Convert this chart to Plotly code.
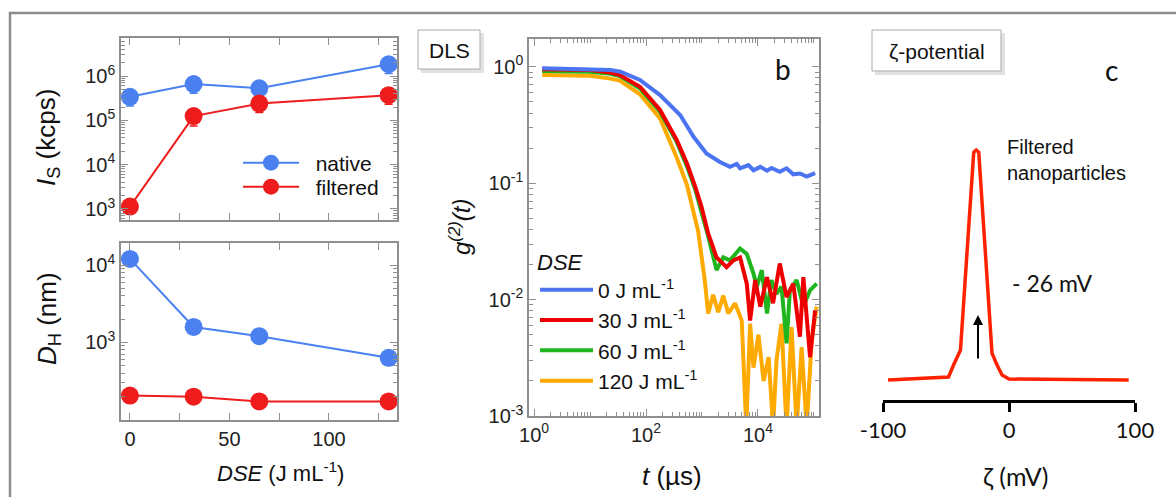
import plotly.graph_objects as go

W, H = 1176, 497
def px(x): return x / W
def py(y): return 1 - y / H

# ---------------- data ----------------
dse = [0, 32, 65, 130]
is_native = [3.4e5, 6.6e5, 5.3e5, 1.85e6]
is_native_err = [1.3e5, 2.5e5, 1.6e5, 7.0e5]
is_filtered = [1.13e3, 1.25e5, 2.4e5, 3.7e5]
is_filtered_err = [0, 5.0e4, 9.0e4, 1.4e5]
dh_native = [1.2e4, 1.58e3, 1.2e3, 630]
dh_filtered = [205, 198, 172, 172]

t_0 = [1.4, 3.2, 10, 23, 35, 78, 178, 407, 708, 1200, 2090, 3160, 4170, 4790, 6760, 8320,
       11000, 14500, 17400, 24500, 32400, 42700, 56200, 74100, 105000]
g_0 = [0.97, 0.965, 0.955, 0.935, 0.906, 0.77, 0.57, 0.385, 0.25, 0.18, 0.152, 0.138, 0.146,
       0.134, 0.143, 0.129, 0.138, 0.128, 0.135, 0.125, 0.134, 0.119, 0.121, 0.114, 0.122]

t_30 = [1.4, 3.2, 10, 23, 34, 78, 178, 355, 537, 759, 980, 1290, 1820, 2750, 3630, 4790, 6310,
        7240, 8910, 11000, 14500, 18600, 24500, 32400, 42700, 56200, 64600, 85100, 105000]
g_30 = [0.95, 0.945, 0.935, 0.89, 0.848, 0.673, 0.425, 0.234, 0.148, 0.093, 0.0625, 0.037,
        0.023, 0.019, 0.0217, 0.023, 0.0137, 0.0066, 0.0147, 0.0087, 0.0156, 0.0093, 0.0204,
        0.0105, 0.0137, 0.0048, 0.0156, 0.0032, 0.0081]

t_60 = [1.4, 3.2, 10, 23, 34, 78, 178, 355, 537, 759, 980, 1290, 1820, 2400, 3160, 4790, 6310,
        8320, 9550, 11700, 14500, 17400, 21400, 26300, 32400, 37200, 49000, 64600, 85100, 112000]
g_60 = [0.92, 0.915, 0.905, 0.87, 0.83, 0.65, 0.41, 0.225, 0.14, 0.088, 0.058, 0.035, 0.0179,
        0.023, 0.0217, 0.0275, 0.0247, 0.0167, 0.0129, 0.0179, 0.0076, 0.0147, 0.0112, 0.0129,
        0.0042, 0.012, 0.0147, 0.0087, 0.012, 0.0137]

t_120 = [1.4, 3.2, 10, 23, 34, 78, 178, 355, 537, 851, 1120, 1290, 1580, 1950, 2400, 2950, 3890,
         5130, 6170, 7240, 8320, 10200, 12600, 15500, 18600, 21400, 26300, 32400, 39800, 49000,
         60300, 74100, 91200, 112000]
g_120 = [0.85, 0.845, 0.835, 0.79, 0.76, 0.58, 0.36, 0.165, 0.097, 0.039, 0.0147, 0.0076, 0.011,
         0.0078, 0.0108, 0.0076, 0.0093, 0.0066, 0.0008, 0.0062, 0.0026, 0.005, 0.002, 0.0032,
         0.0008, 0.003, 0.0062, 0.0008, 0.0058, 0.0008, 0.0039, 0.0008, 0.0045, 0.0087]

zeta = [-96, -48, -44, -38.5, -28, -26, -24, -13.5, -9.5, -5.5, 0, 95]
zeta_int = [0.0, 0.013, 0.065, 0.13, 0.99, 1.0, 0.99, 0.117, 0.065, 0.022, 0.004, 0.0]

# ---------------- styles ----------------
BLUE_A, RED_A = "#4a80f0", "#ee1c1c"
C_0, C_30, C_60, C_120 = "#4b74f0", "#ee0000", "#1fb51f", "#ffaa00"
C_Z = "#ff2200"
SANS = "Liberation Sans, Arial, sans-serif"
GILL = "Lato, sans-serif"
FRAME = "#8f8f8f"
PAD = "\u00a0\u00a0"

fig = go.Figure()

fig.add_trace(go.Scatter(x=dse, y=is_native, mode="lines+markers", name=PAD + "native",
                         line=dict(color=BLUE_A, width=2), marker=dict(size=18, color=BLUE_A),
                         error_y=dict(type="data", symmetric=False, array=[0]*4,
                                      arrayminus=is_native_err, color=BLUE_A, thickness=1.5, width=4),
                         xaxis="x", yaxis="y", legend="legend"))
fig.add_trace(go.Scatter(x=dse, y=is_filtered, mode="lines+markers", name=PAD + "filtered",
                         line=dict(color=RED_A, width=2), marker=dict(size=18, color=RED_A),
                         error_y=dict(type="data", symmetric=False, array=[0]*4,
                                      arrayminus=is_filtered_err, color=RED_A, thickness=1.5, width=4),
                         xaxis="x", yaxis="y", legend="legend3"))
fig.add_trace(go.Scatter(x=dse, y=dh_native, mode="lines+markers", showlegend=False,
                         line=dict(color=BLUE_A, width=2), marker=dict(size=18, color=BLUE_A),
                         xaxis="x2", yaxis="y2"))
fig.add_trace(go.Scatter(x=dse, y=dh_filtered, mode="lines+markers", showlegend=False,
                         line=dict(color=RED_A, width=2), marker=dict(size=18, color=RED_A),
                         xaxis="x2", yaxis="y2"))
for t, g, c, nm in [(t_120, g_120, C_120, "120 J mL<sup>-1</sup>"),
                    (t_60, g_60, C_60, "60 J mL<sup>-1</sup>"),
                    (t_30, g_30, C_30, "30 J mL<sup>-1</sup>"),
                    (t_0, g_0, C_0, "0 J mL<sup>-1</sup>")]:
    fig.add_trace(go.Scatter(x=t, y=g, mode="lines", name=nm, line=dict(color=c, width=4),
                             xaxis="x3", yaxis="y3", legend="legend2"))
fig.add_trace(go.Scatter(x=zeta, y=zeta_int, mode="lines", showlegend=False,
                         line=dict(color=C_Z, width=3.5), xaxis="x4", yaxis="y4"))

def minor_log(lo, hi):
    vals = []
    for e in range(lo, hi):
        for m in range(2, 10):
            vals.append(m * 10 ** e)
    return vals

def sup(e):
    return "10<sup>%d</sup>" % e

common = dict(showline=True, linecolor=FRAME, linewidth=1.5, mirror="allticks", ticks="inside",
              tickcolor=FRAME, ticklen=7, tickwidth=1.2, showgrid=False, zeroline=False,
              automargin=False, tickfont=dict(family=SANS, size=20, color="#222"))
minor_style = dict(ticks="inside", ticklen=4, tickcolor=FRAME, tickwidth=1, showgrid=False)

xa_dom = [px(121), px(397)]
leg_font = dict(family=SANS, size=21, color="#111")
layout = dict(
    xaxis=dict(domain=xa_dom, range=[-4.5, 134.2], anchor="y",
               tickvals=[0, 25, 50, 75, 100, 125], showticklabels=False, **common),
    yaxis=dict(domain=[py(220), py(38)], type="log", range=[2.75, 6.86], anchor="x",
               tickvals=[1e3, 1e4, 1e5, 1e6], ticktext=[sup(3), sup(4), sup(5), sup(6)],
               minor=dict(tickvals=minor_log(2, 7), **minor_style), **common),
    xaxis2=dict(domain=xa_dom, range=[-4.5, 134.2], anchor="y2",
                tickvals=[0, 50, 100], ticktext=["0", "50", "100"],
                minor=dict(tickvals=[25, 75, 125], ticks="inside", ticklen=7, tickcolor=FRAME,
                           tickwidth=1.2, showgrid=False), **common),
    yaxis2=dict(domain=[py(420), py(243)], type="log", range=[1.995, 4.285], anchor="x2",
                tickvals=[1e3, 1e4], ticktext=[sup(3), sup(4)],
                minor=dict(tickvals=minor_log(2, 5), **minor_style), **common),
    xaxis3=dict(domain=[px(529), px(819)], type="log", range=[-0.09, 5.09], anchor="y3",
                tickvals=[1, 100, 1e4], ticktext=[sup(0), sup(2), sup(4)],
                minor=dict(tickvals=minor_log(0, 6) + [10, 1e3, 1e5], **minor_style), **common),
    yaxis3=dict(domain=[py(416), py(39)], type="log", range=[-3, 0.238], anchor="x3",
                tickvals=[1e-3, 1e-2, 1e-1, 1],
                ticktext=[sup(-3), sup(-2), sup(-1), sup(0)],
                minor=dict(tickvals=minor_log(-3, 1), **minor_style), **common),
    xaxis4=dict(domain=[px(883), px(1135)], range=[-100, 100], anchor="y4",
                showline=True, linecolor="black", linewidth=3, ticks="outside",
                ticklen=9, tickwidth=3, tickcolor="black", tickvals=[-100, 0, 100],
                ticktext=["-100", "0", "100"], showgrid=False, zeroline=False, automargin=False,
                tickfont=dict(family=GILL, size=22, color="#111")),
    yaxis4=dict(domain=[py(400), py(140)], range=[-0.087, 1.0435], anchor="x4", visible=False,
                automargin=False),
    width=W, height=H, margin=dict(l=0, r=0, t=0, b=0, autoexpand=False),
    paper_bgcolor="white", plot_bgcolor="rgba(0,0,0,0)",
    font=dict(family=SANS, color="#111"),
    legend=dict(x=px(238), y=py(163), xanchor="left", yanchor="middle",
                font=leg_font, bgcolor="rgba(0,0,0,0)", itemwidth=56),
    legend3=dict(x=px(238), y=py(187), xanchor="left", yanchor="middle",
                 font=leg_font, bgcolor="rgba(0,0,0,0)", itemwidth=56),
    legend2=dict(x=px(535), y=py(241), xanchor="left", yanchor="top",
                 title=dict(text="<i>DSE</i>", font=dict(family=SANS, size=22, color="#111")),
                 font=leg_font, bgcolor="rgba(0,0,0,0)",
                 itemwidth=53, traceorder="reversed"),
)

shapes = [
    dict(type="rect", xref="paper", yref="paper", x0=px(10), y0=py(520), x1=px(1190), y1=py(13),
         line=dict(color="#8c8c8c", width=2.5), fillcolor="rgba(0,0,0,0)", layer="below"),
    dict(type="rect", xref="paper", yref="paper", x0=px(421), y0=py(73), x1=px(484), y1=py(33),
         line=dict(width=0), fillcolor="#e2e2e2", layer="above"),
    dict(type="rect", xref="paper", yref="paper", x0=px(418), y0=py(69), x1=px(480), y1=py(30),
         line=dict(color="#aaaaaa", width=1), fillcolor="white", layer="above"),
    dict(type="rect", xref="paper", yref="paper", x0=px(875), y0=py(75), x1=px(1005), y1=py(33),
         line=dict(width=0), fillcolor="#e2e2e2", layer="above"),
    dict(type="rect", xref="paper", yref="paper", x0=px(872), y0=py(71), x1=px(1001), y1=py(30),
         line=dict(color="#aaaaaa", width=1), fillcolor="white", layer="above"),
]

def ann(text, x, y, size, family=SANS, angle=0, xanchor="center", align="center"):
    return dict(text=text, x=px(x), y=py(y), xref="paper", yref="paper", showarrow=False,
                xanchor=xanchor, yanchor="middle", textangle=angle, align=align,
                font=dict(family=family, size=size, color="#111"))

annotations = [
    ann("<i>I</i><sub>S</sub> (kcps)", 48, 137, 26, angle=-90),
    ann("<i>D</i><sub>H</sub> (nm)", 48, 318, 26, angle=-90),
    ann("<i>DSE</i> (J mL<sup>-1</sup>)", 280, 472, 22),
    ann("<i>g<sup>(2)</sup>(t)</i>", 460, 227, 24, angle=-90),
    ann("<i>t</i> (µs)", 672, 476, 26),
    ann("b", 783, 69, 28, family=GILL),
    ann("c", 1111, 70, 28, family=GILL),
    ann("DLS", 449, 50, 21),
    ann("ζ-potential", 936.5, 51, 21),
    ann("Filtered<br>nanoparticles", 1005, 160, 20, xanchor="left", align="left"),
    ann("- 26 mV", 1010, 283, 23, family=GILL, xanchor="left"),
    ann("ζ (mV)", 1015, 476, 25, family=GILL),
    dict(text="", x=px(978), y=py(315), xref="paper", yref="paper", showarrow=True,
         ax=0, ay=45, arrowhead=2, arrowsize=1, arrowwidth=2, arrowcolor="black", standoff=0),
]
layout["shapes"] = shapes
layout["annotations"] = annotations
fig.update_layout(**layout)

fig.write_html("out.html", config={"displayModeBar": False},
               post_script="document.body.style.margin='0';document.body.style.overflow='hidden';")
